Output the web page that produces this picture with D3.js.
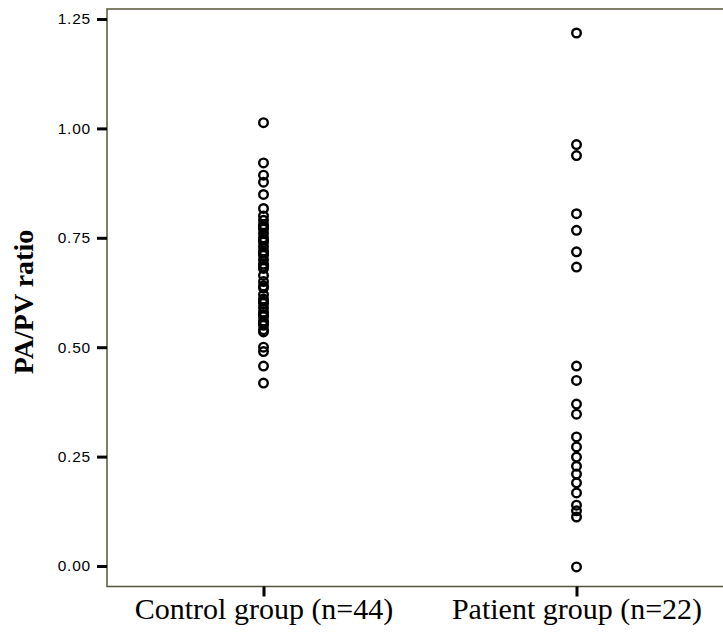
<!DOCTYPE html>
<html>
<head>
<meta charset="utf-8">
<script src="https://cdn.jsdelivr.net/npm/d3@7"></script>
<style>
  body { margin: 0; background: #fff; }
  svg { display: block; }
</style>
</head>
<body>
<div id="chart"></div>
<script>
// groups on the x axis
let groups = ['Control group (n=44)', 'Patient group (n=22)'];

// PA/PV ratio
let controlValues = [
  1.013, 0.921, 0.893, 0.877, 0.849, 0.817,
  0.80, 0.79, 0.78, 0.775, 0.77, 0.76, 0.75, 0.745, 0.74, 0.73, 0.72, 0.715, 0.71, 0.70, 0.69, 0.685, 0.68,
  0.664,
  0.65, 0.64, 0.635, 0.62, 0.61, 0.605, 0.60, 0.59, 0.58, 0.575, 0.57, 0.56, 0.555, 0.55, 0.54, 0.535,
  0.50, 0.49, 0.457, 0.418
];
let patientValues = [
  1.218, 0.963, 0.938, 0.805, 0.767, 0.718, 0.683,
  0.457, 0.424, 0.370, 0.347,
  0.295, 0.272, 0.249, 0.228, 0.210, 0.190, 0.167,
  0.139, 0.126, 0.112,
  -0.002
];
let yTicks = [0, 0.25, 0.5, 0.75, 1.0, 1.25];

let width = 723, height = 633;
let margin = { top: 9, right: -10, bottom: 47, left: 107 };

let points = [];
controlValues.forEach(v => points.push({ group: groups[0], value: v }));
patientValues.forEach(v => points.push({ group: groups[1], value: v }));

let svg = d3.select('#chart').append('svg')
  .attr('width', width)
  .attr('height', height);

let xScale = d3.scalePoint()
  .domain(groups)
  .range([margin.left, width - margin.right])
  .padding(0.5);

let yScale = d3.scaleLinear()
  .domain([0, 1.25])
  .range([566, 19]);

let frameBottom = height - margin.bottom + 0.5;

// frame: left, top and bottom lines
let frame = svg.append('g').attr('class', 'frame');
frame.append('path')
  .attr('d', `M${width},${margin.top}H${margin.left}V${frameBottom}H${width}`)
  .attr('fill', 'none')
  .attr('stroke', '#55553a')
  .attr('stroke-width', 1.5);

// y axis
let yAxis = d3.axisLeft(yScale)
  .tickValues(yTicks)
  .tickFormat(d3.format('.2f'))
  .tickSize(10)
  .tickPadding(6);

let gy = svg.append('g')
  .attr('class', 'y-axis')
  .attr('transform', `translate(${margin.left}, 0)`)
  .call(yAxis);
gy.select('.domain').remove();
gy.selectAll('.tick line').attr('stroke', '#000').attr('stroke-width', 3);
gy.selectAll('.tick text')
  .attr('fill', '#000')
  .style('font-family', '"Liberation Sans", Arial, sans-serif')
  .style('font-size', '15.5px')
  .style('letter-spacing', '0.8px');

// x axis
let xAxis = d3.axisBottom(xScale)
  .tickSize(10)
  .tickPadding(1);

let gx = svg.append('g')
  .attr('class', 'x-axis')
  .attr('transform', `translate(0, ${frameBottom})`)
  .call(xAxis);
gx.select('.domain').remove();
gx.selectAll('.tick line').attr('stroke', '#000').attr('stroke-width', 3);
gx.selectAll('.tick text')
  .attr('fill', '#000')
  .style('font-family', '"Liberation Serif", "Times New Roman", serif')
  .style('font-size', '30px');

// y axis label
svg.append('text')
  .attr('transform', `translate(33, ${302}) rotate(-90)`)
  .attr('text-anchor', 'middle')
  .style('font-family', '"Liberation Serif", "Times New Roman", serif')
  .style('font-weight', 'bold')
  .style('font-size', '28px')
  .text('PA/PV ratio');

// points
svg.append('g')
  .attr('class', 'points')
  .selectAll('circle')
  .data(points)
  .join('circle')
  .attr('cx', d => xScale(d.group))
  .attr('cy', d => yScale(d.value))
  .attr('r', 4.3)
  .attr('fill', 'none')
  .attr('stroke', '#000')
  .attr('stroke-width', 2.4);
</script>
</body>
</html>
